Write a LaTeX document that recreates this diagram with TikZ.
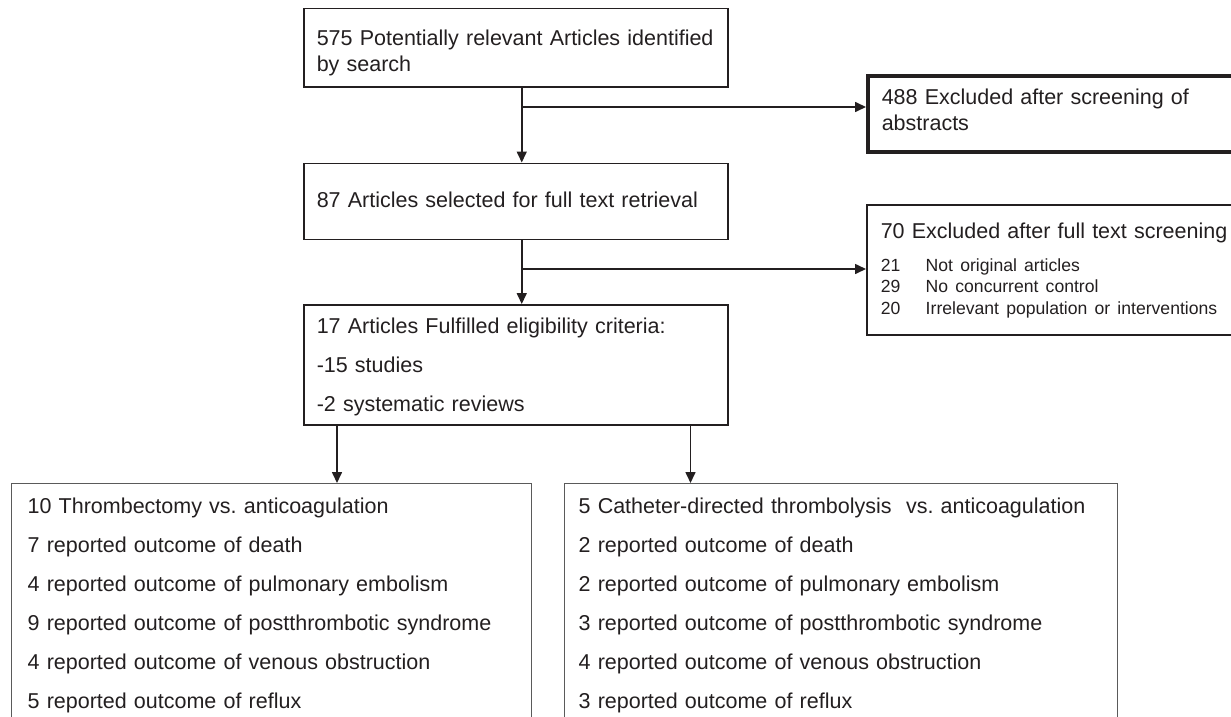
\documentclass[tikz,border=0pt]{standalone}
\usepackage{fontspec}
\setmainfont{Liberation Sans}
\usetikzlibrary{positioning,arrows.meta}
\frenchspacing

\definecolor{ink}{HTML}{231F20}
\definecolor{armline}{HTML}{5A5A5A}

\tikzset{
  flowbox/.style={draw=ink, line width=1.5pt, rectangle, anchor=north west, align=left,
    inner ysep=0pt, inner xsep=13pt, text=ink, font=\fontsize{21.5}{26}\selectfont},
  exclbox/.style={flowbox, inner xsep=14pt},
  armbox/.style={flowbox, draw=armline, line width=1.3pt, font=\fontsize{21.5}{39}\selectfont},
  flow/.style={draw=ink, line width=1.6pt, -{Triangle[length=11pt,width=10pt]}}
}

\begin{document}
\begin{tikzpicture}[x=1pt, y=-1pt]
            \useasboundingbox (0,0) rectangle (1231,717);
            \clip (0,0) rectangle (1231,717);
            \node [flowbox, text width=398pt, text height=37pt, text depth=41pt] (n575) at (303,8)
                {575 Potentially relevant Articles identified\\by search};
            \node [flowbox, below=75pt of n575.south west, anchor=north west, text width=398pt,
                text height=44pt, text depth=32pt] (n87) {87 Articles selected for full text retrieval};
            \node [flowbox, below=64pt of n87.south west, anchor=north west, text width=398pt,
                text height=29pt, text depth=91pt, font=\fontsize{21.5}{39}\selectfont] (n17)
                {17 Articles Fulfilled eligibility criteria:\\-15 studies\\-2 systematic reviews};
            \node [exclbox, line width=3.5pt, text width=352pt, text height=29pt, text depth=47pt] (n488) at (866,74)
                {488 Excluded after screening of\\abstracts};
            \node [exclbox, text width=352pt, text height=34pt, text depth=96pt] (n70) at (866,204)
                {70 Excluded after full text screening\par\vspace{11pt}%
                {\fontsize{17.6}{21.5}\selectfont
                \makebox[45pt][l]{21}Not original articles\\
                \makebox[45pt][l]{29}No concurrent control\\
                \makebox[45pt][l]{20}Irrelevant population or interventions\par}};
            \node [armbox, inner xsep=16pt, text width=488pt, text height=30pt, text depth=240pt] (armL) at (11,483)
                {10 Thrombectomy vs. anticoagulation\\7 reported outcome of death\\
                4 reported outcome of pulmonary embolism\\9 reported outcome of postthrombotic syndrome\\
                4 reported outcome of venous obstruction\\5 reported outcome of reflux};
            \node [armbox, inner xsep=14pt, text width=525pt, text height=30pt, text depth=240pt] (armR) at (564,483)
                {5 Catheter-directed thrombolysis\ \ vs. anticoagulation\\2 reported outcome of death\\
                2 reported outcome of pulmonary embolism\\3 reported outcome of postthrombotic syndrome\\
                4 reported outcome of venous obstruction\\3 reported outcome of reflux};
            \coordinate (split1) at (521,107);
            \coordinate (split2) at (521,269);
            \draw [flow] ([xshift=6pt]n575.south) -- ([xshift=6pt]n87.north);
            \draw [flow] ([xshift=6pt]n87.south) -- ([xshift=6pt]n17.north);
            \draw [flow] (split1) -- (split1 -| n488.west);
            \draw [flow] (split2) -- (split2 -| n70.west);
            \draw [flow] ([xshift=34pt]n17.south west) coordinate (d1) -- (d1 |- armL.north);
            \draw [flow] ([xshift=-38pt]n17.south east) coordinate (d2) -- (d2 |- armR.north);
\end{tikzpicture}
\end{document}
